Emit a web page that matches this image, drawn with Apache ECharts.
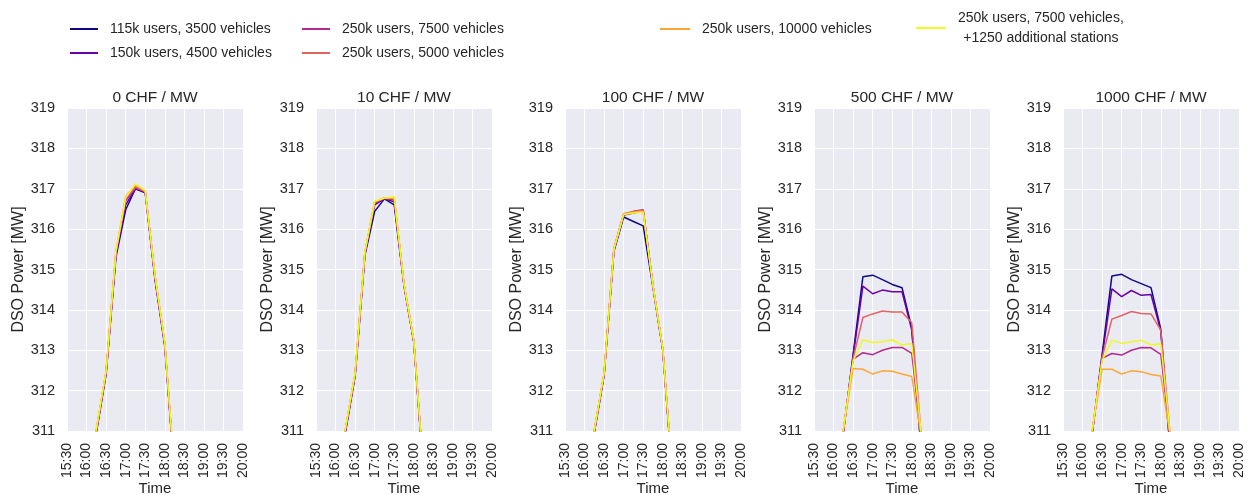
<!DOCTYPE html>
<html>
<head>
<meta charset="utf-8">
<script src="https://cdn.jsdelivr.net/npm/echarts@6/dist/echarts.min.js"></script>
<style>
  html, body { margin: 0; padding: 0; background: #fff; }
  #chart { width: 1249px; height: 495px; }
</style>
</head>
<body>
<div id="chart"></div>
<script>
// time steps (15 min)
var times = ['16:00', '16:15', '16:30', '16:45', '17:00', '17:15', '17:30', '17:45', '18:00', '18:15', '18:30'];
var tickLabels = ['15:30', '16:00', '16:30', '17:00', '17:30', '18:00', '18:30', '19:00', '19:30', '20:00'];
var yTicks = [311, 312, 313, 314, 315, 316, 317, 318, 319];

var scenarios = [
    '115k users, 3500 vehicles',
    '150k users, 4500 vehicles',
    '250k users, 7500 vehicles',
    '250k users, 5000 vehicles',
    '250k users, 10000 vehicles',
    '250k users, 7500 vehicles,\n+1250 additional stations'
];
var colors = ['#0d0887', '#6a00a8', '#b12a90', '#e16462', '#fca636', '#f0f921'];
var prices = ['0 CHF / MW', '10 CHF / MW', '100 CHF / MW', '500 CHF / MW', '1000 CHF / MW'];

// one row per scenario
var chf0 = [
    [309.5, 310.95, 312.40, 315.30, 316.48, 317.00, 316.90, 314.75, 313.10, 309.9, 308.5],
    [309.5, 311.00, 312.45, 315.35, 316.60, 317.00, 316.92, 314.80, 313.15, 309.9, 308.5],
    [309.5, 311.00, 312.45, 315.40, 316.70, 317.02, 316.93, 314.80, 313.15, 309.9, 308.5],
    [309.5, 311.02, 312.47, 315.42, 316.75, 317.05, 316.93, 314.85, 313.17, 309.95, 308.5],
    [309.5, 311.03, 312.48, 315.45, 316.80, 317.10, 316.95, 314.85, 313.18, 309.95, 308.5],
    [309.5, 311.05, 312.50, 315.45, 316.78, 317.12, 316.95, 314.85, 313.20, 310.0, 308.5]
];
var chf10 = [
    [309.5, 310.95, 312.35, 315.35, 316.44, 316.75, 316.60, 314.60, 313.20, 309.9, 308.5],
    [309.5, 311.00, 312.40, 315.40, 316.60, 316.75, 316.68, 314.62, 313.22, 309.95, 308.5],
    [309.5, 311.00, 312.40, 315.40, 316.65, 316.76, 316.72, 314.62, 313.23, 309.95, 308.5],
    [309.5, 311.02, 312.42, 315.42, 316.67, 316.77, 316.75, 314.63, 313.24, 310.0, 308.5],
    [309.5, 311.03, 312.43, 315.43, 316.68, 316.77, 316.78, 314.64, 313.25, 310.0, 308.5],
    [309.5, 311.05, 312.45, 315.45, 316.69, 316.77, 316.80, 314.65, 313.25, 310.0, 308.5]
];
var chf100 = [
    [309.5, 310.95, 312.38, 315.45, 316.30, 316.19, 316.08, 314.55, 313.00, 309.8, 308.5],
    [309.5, 311.00, 312.40, 315.48, 316.35, 316.40, 316.45, 314.58, 313.02, 309.8, 308.5],
    [309.5, 311.00, 312.42, 315.50, 316.36, 316.44, 316.48, 314.60, 313.03, 309.85, 308.5],
    [309.5, 311.00, 312.43, 315.52, 316.38, 316.44, 316.46, 314.60, 313.03, 309.85, 308.5],
    [309.5, 311.02, 312.44, 315.52, 316.38, 316.42, 316.44, 314.60, 313.04, 309.85, 308.5],
    [309.5, 311.03, 312.45, 315.50, 316.36, 316.40, 316.42, 314.60, 313.05, 309.9, 308.5]
];
var chf500 = [
    [309.5, 310.95, 312.90, 314.82, 314.86, 314.75, 314.63, 314.55, 313.55, 310.4, 308.5],
    [309.5, 310.97, 312.85, 314.59, 314.40, 314.49, 314.45, 314.45, 313.50, 310.4, 308.5],
    [309.5, 311.00, 312.78, 312.94, 312.89, 313.00, 313.07, 313.07, 312.92, 310.8, 308.5],
    [309.5, 311.00, 312.80, 313.81, 313.90, 313.97, 313.95, 313.95, 313.68, 310.8, 308.5],
    [309.5, 311.02, 312.55, 312.53, 312.41, 312.49, 312.48, 312.41, 312.35, 310.8, 308.5],
    [309.5, 311.05, 312.74, 313.26, 313.19, 313.21, 313.26, 313.13, 313.17, 310.85, 308.5]
];
var chf1000 = [
    [309.5, 310.95, 312.90, 314.84, 314.88, 314.75, 314.65, 314.55, 313.52, 310.4, 308.5],
    [309.5, 310.97, 312.85, 314.52, 314.33, 314.48, 314.36, 314.38, 313.48, 310.4, 308.5],
    [309.5, 311.00, 312.80, 312.92, 312.88, 313.00, 313.07, 313.06, 312.90, 310.8, 308.5],
    [309.5, 311.00, 312.82, 313.77, 313.86, 313.96, 313.91, 313.90, 313.50, 310.8, 308.5],
    [309.5, 311.02, 312.53, 312.53, 312.41, 312.49, 312.47, 312.40, 312.36, 310.8, 308.5],
    [309.5, 311.05, 312.74, 313.25, 313.17, 313.21, 313.25, 313.13, 313.16, 310.85, 308.5]
];
var panels = [chf0, chf10, chf100, chf500, chf1000];

var font = '"Liberation Sans", Arial, sans-serif';
var textColor = '#262626';

function toMin(t) {
    var p = t.split(':');
    return +p[0] * 60 + +p[1];
}
function fmt(v) {
    var h = Math.floor(v / 60), m = v % 60;
    return h + ':' + (m < 10 ? '0' + m : m);
}

var gridLeft = [67, 316, 565, 814, 1063];
var grids = [], xAxes = [], yAxes = [], titles = [], series = [];

panels.forEach(function (rows, i) {
    grids.push({
        left: gridLeft[i], top: 108, width: 176, height: 323,
        outerBoundsMode: 'none', containLabel: false,
        show: true, backgroundColor: '#eaeaf2', borderWidth: 0
    });
    titles.push({
        text: prices[i],
        left: gridLeft[i] + 88, top: 90, textAlign: 'center', padding: 0,
        textStyle: { fontFamily: font, fontSize: 15.5, fontWeight: 'normal', color: textColor }
    });
    xAxes.push({
        gridIndex: i, type: 'value',
        min: toMin(tickLabels[0]), max: toMin(tickLabels[tickLabels.length - 1]), interval: 30,
        name: 'Time', nameLocation: 'middle', nameGap: 50, nameMoveOverlap: false,
        nameTextStyle: { fontFamily: font, fontSize: 15, color: textColor },
        axisLine: { show: false }, axisTick: { show: false },
        axisLabel: {
            rotate: 90, margin: 12, fontFamily: font, fontSize: 14, color: textColor,
            formatter: fmt, showMinLabel: true, showMaxLabel: true
        },
        splitLine: { show: true, lineStyle: { color: '#fff', width: 1 } }
    });
    yAxes.push({
        gridIndex: i, type: 'value',
        min: yTicks[0], max: yTicks[yTicks.length - 1], interval: 1,
        name: 'DSO Power [MW]', nameLocation: 'middle', nameGap: 40, nameMoveOverlap: false,
        nameTextStyle: { fontFamily: font, fontSize: 16, color: textColor },
        axisLine: { show: false }, axisTick: { show: false },
        axisLabel: { margin: 12, fontFamily: font, fontSize: 14.5, color: textColor },
        splitLine: { show: true, lineStyle: { color: '#fff', width: 1 } }
    });
    rows.forEach(function (vals, s) {
        series.push({
            name: scenarios[s], type: 'line',
            xAxisIndex: i, yAxisIndex: i,
            data: times.map(function (t, k) { return [toMin(t), vals[k]]; }),
            showSymbol: false, symbol: 'none', clip: true,
            color: colors[s],
            lineStyle: { width: 1.5, color: colors[s] },
            emphasis: { disabled: true }, animation: false
        });
    });
});

function legendCol(left, top, names, w) {
    return {
        left: left, top: top, orient: 'vertical', itemGap: 6, padding: 0,
        itemWidth: w, itemHeight: 2, icon: 'rect',
        data: names,
        selectedMode: false,
        textStyle: {
            fontFamily: font, fontSize: 14, color: textColor, lineHeight: 18,
            padding: [0, 0, 0, 7],
            rich: { c: { fontFamily: font, fontSize: 14, color: textColor, lineHeight: 20, align: 'center' } }
        },
        formatter: function (n) {
            if (n.indexOf('\n') >= 0) {
                return n.split('\n').map(function (l) { return '{c|' + l + '}'; }).join('\n');
            }
            return n;
        }
    };
}

var chart = echarts.init(document.getElementById('chart'));
chart.setOption({
    animation: false,
    backgroundColor: '#fff',
    title: titles,
    legend: [
        legendCol(70, 20, [scenarios[0], scenarios[1]], 28),
        legendCol(302, 20, [scenarios[2], scenarios[3]], 28),
        legendCol(660, 20, [scenarios[4]], 30),
        legendCol(916, 8, [scenarios[5]], 30)
    ],
    grid: grids,
    xAxis: xAxes,
    yAxis: yAxes,
    series: series
});
</script>
</body>
</html>
